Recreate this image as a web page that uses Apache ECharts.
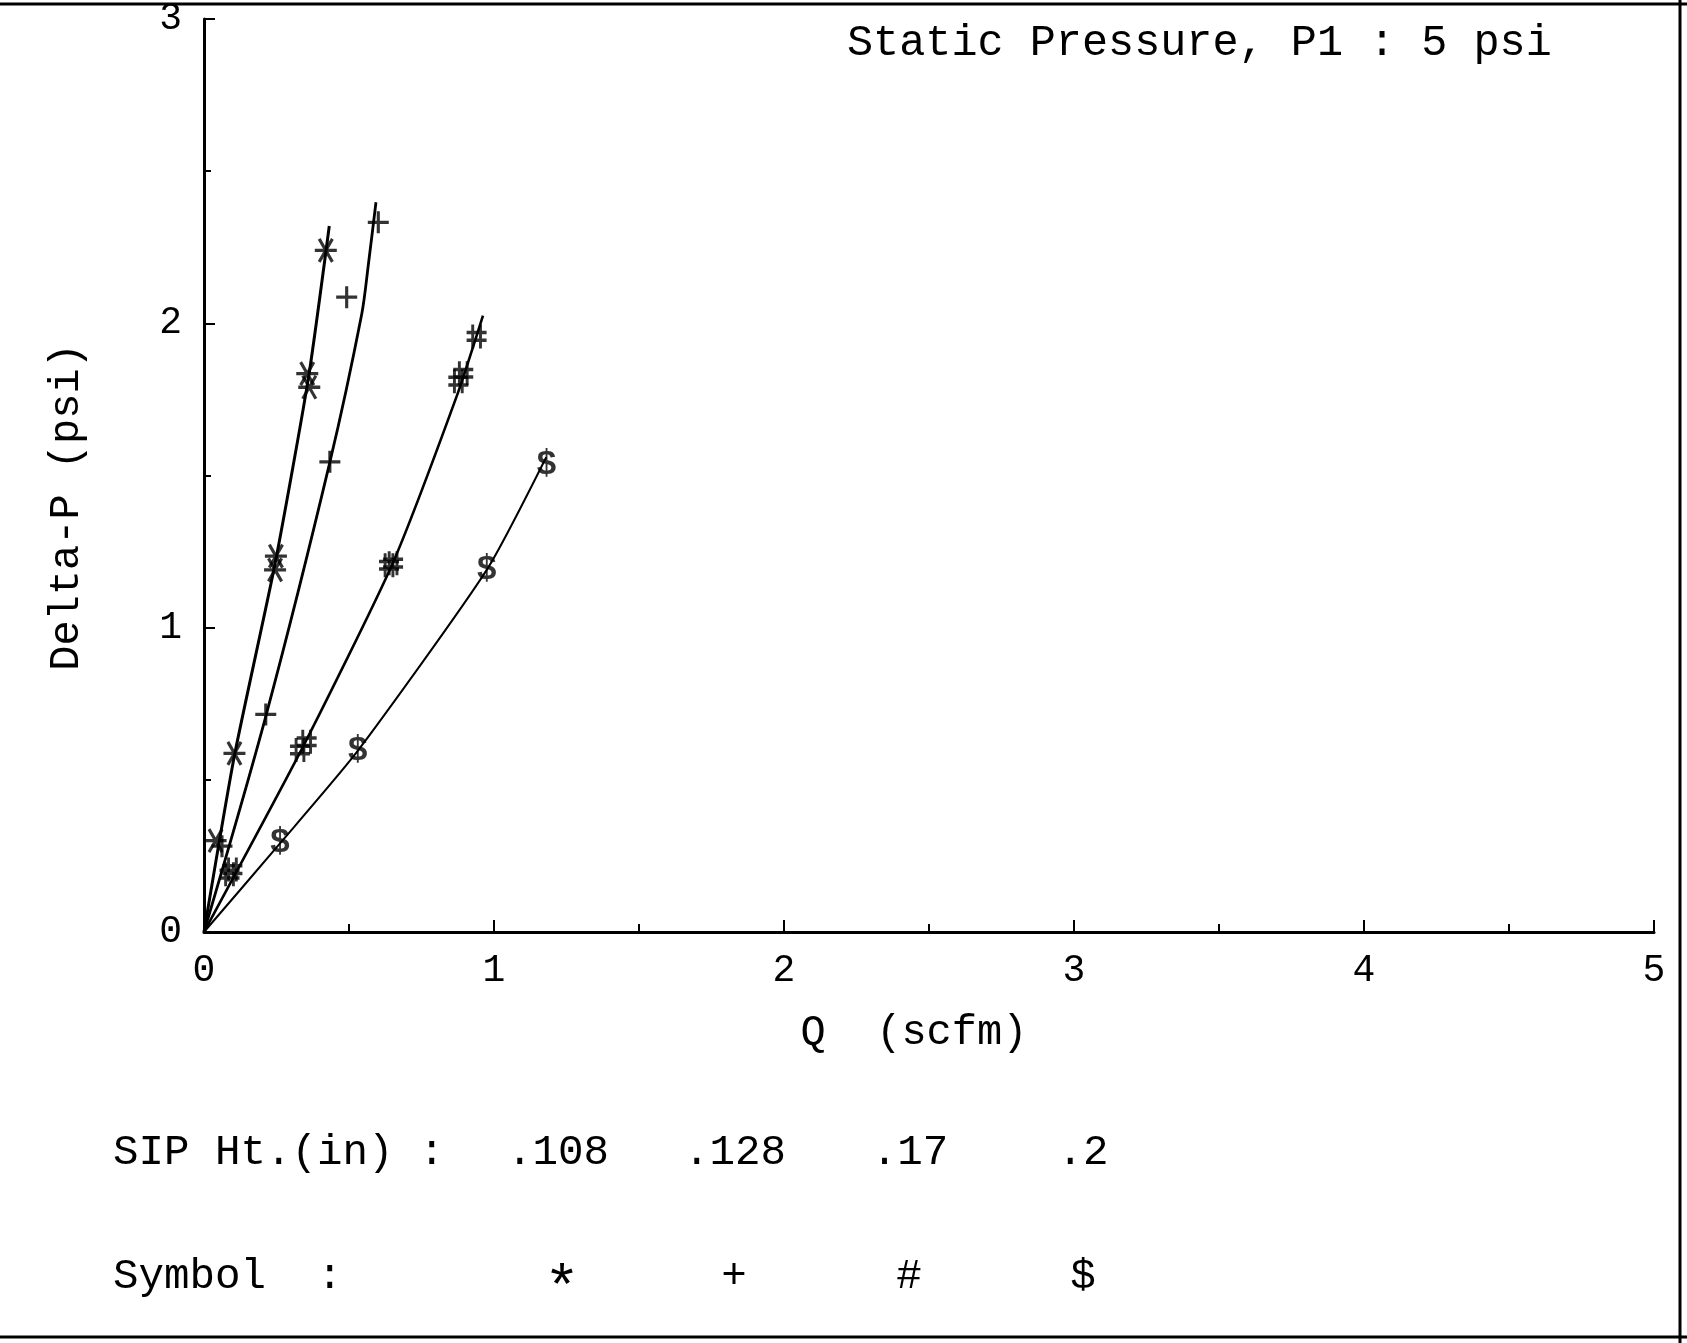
<!DOCTYPE html>
<html>
<head>
<meta charset="utf-8">
<script src="https://cdn.jsdelivr.net/npm/echarts@6/dist/echarts.min.js"></script>
<style>
  html, body { margin: 0; padding: 0; background: #fff; }
  #chart { width: 1687px; height: 1343px; }
</style>
</head>
<body>
<div id="chart"></div>
<script>
// Measured points, Q (scfm) vs Delta-P (psi), one pair of arrays per SIP height
const q108 = [0.040, 0.105, 0.245, 0.248, 0.356, 0.363, 0.420];
const dp108 = [0.300, 0.587, 1.190, 1.235, 1.835, 1.790, 2.240];

const q128 = [0.062, 0.213, 0.434, 0.492, 0.601];
const dp128 = [0.282, 0.715, 1.545, 2.086, 2.332];

const q17 = [0.088, 0.098, 0.331, 0.354, 0.638, 0.652, 0.877, 0.894, 0.940];
const dp17 = [0.190, 0.205, 0.598, 0.625, 1.205, 1.212, 1.810, 1.836, 1.957];

const q2 = [0.262, 0.530, 0.975, 1.181];
const dp2 = [0.291, 0.595, 1.190, 1.534];

// Fitted curves drawn through each set
const fitQ108 = [0, 0.105, 0.245, 0.360, 0.432];
const fitDp108 = [0, 0.580, 1.210, 1.820, 2.320];

const fitQ128 = [0, 0.214, 0.434, 0.544, 0.567, 0.593];
const fitDp128 = [0, 0.712, 1.544, 2.031, 2.195, 2.398];

const fitQ17 = [0, 0.342, 0.650, 0.875, 0.962];
const fitDp17 = [0, 0.610, 1.210, 1.770, 2.025];

const fitQ2 = [0, 0.262, 0.530, 0.975, 1.180];
const fitDp2 = [0, 0.291, 0.595, 1.190, 1.560];

// Legend rows
const sipHeights = ['.108', '.128', '.17', '.2'];
const symbolChars = ['*', '+', '#', '$'];

// Axis tick labels
const xTickLabels = ['0', '1', '2', '3', '4', '5'];
const yTickLabels = ['0', '1', '2', '3'];

const pair = (xs, ys) => xs.map((x, i) => [x, ys[i]]);

const FONT = '"Liberation Mono", "DejaVu Sans Mono", monospace';
const INK = '#000';

const starPath = 'path://M-10,0L10,0M-6,-10L6,10M-6,10L6,-10';
const plusPath = 'path://M-10,0L10,0M0,-10L0,10';
const hashPath = 'path://M-3.5,-11L-3.5,11M3.5,-11L3.5,11M-9,-3.5L9,-3.5M-9,3.5L9,3.5';

function fitLine(name, xs, ys, width, smooth) {
  return {
    name: name,
    type: 'line',
    data: pair(xs, ys),
    smooth: smooth,
    showSymbol: false,
    silent: true,
    lineStyle: { color: INK, width: width },
    z: 2
  };
}

function pathMarks(name, xs, ys, path, size) {
  return {
    name: name,
    type: 'scatter',
    data: pair(xs, ys),
    symbol: path,
    symbolSize: size,
    itemStyle: { color: 'transparent', borderColor: INK, borderWidth: 3.2 },
    z: 3
  };
}

const chart = echarts.init(document.getElementById('chart'), null, { renderer: 'canvas' });

const legendY1 = 1153;
const legendY2 = 1277;
const legendX = [558, 735, 910, 1083];
const symbolX = [562, 734, 909, 1083];

const textStyle = (text, size, align) => ({ text: text, fontFamily: FONT, fontSize: size, fill: INK, align: align, verticalAlign: 'middle' });

const graphics = [
  // outer frame lines
  { type: 'line', shape: { x1: 0, y1: 4, x2: 1687, y2: 4 }, style: { stroke: INK, lineWidth: 3 } },
  { type: 'line', shape: { x1: 1680, y1: 0, x2: 1680, y2: 1343 }, style: { stroke: INK, lineWidth: 3 } },
  { type: 'line', shape: { x1: 0, y1: 1337, x2: 1687, y2: 1337 }, style: { stroke: INK, lineWidth: 3 } },
  // heading
  { type: 'text', x: 847, y: 43, style: textStyle('Static Pressure, P1 : 5 psi', 43.5, 'left') },
  // axis titles
  { type: 'text', x: 914, y: 1033, style: textStyle('Q  (scfm)', 42, 'center') },
  { type: 'text', x: 67, y: 507, rotation: Math.PI / 2, style: textStyle('Delta-P (psi)', 42, 'center') },
  // legend rows
  { type: 'text', x: 113, y: legendY1, style: textStyle('SIP Ht.(in) :', 42.5, 'left') },
  { type: 'text', x: 113, y: legendY2, style: textStyle('Symbol  :', 42.5, 'left') }
];
sipHeights.forEach((t, i) => {
  graphics.push({ type: 'text', x: legendX[i], y: legendY1, style: textStyle(t, 42.5, 'center') });
});
symbolChars.forEach((t, i) => {
  const big = t === '*';
  graphics.push({ type: 'text', x: symbolX[i], y: legendY2 + (big ? 13 : 0), style: textStyle(t, big ? 60 : 42.5, 'center') });
});

const option = {
  backgroundColor: '#fff',
  animation: false,
  grid: { left: 204, right: 33, top: 18, bottom: 411, containLabel: false },
  xAxis: {
    type: 'value', min: 0, max: 5, interval: 1,
    axisLine: { show: true, onZero: false, lineStyle: { color: INK, width: 3 } },
    axisTick: { show: true, inside: true, length: 12, lineStyle: { color: INK, width: 2 } },
    minorTick: { show: true, splitNumber: 2, length: 8, lineStyle: { color: INK, width: 2 } },
    splitLine: { show: false },
    axisLabel: { color: INK, fontFamily: FONT, fontSize: 38, margin: 20,
      formatter: (v) => xTickLabels[Math.round(v)] }
  },
  yAxis: {
    type: 'value', min: 0, max: 3, interval: 1,
    axisLine: { show: true, onZero: false, lineStyle: { color: INK, width: 3 } },
    axisTick: { show: true, inside: true, length: 11, lineStyle: { color: INK, width: 2 } },
    minorTick: { show: true, splitNumber: 2, length: 7, lineStyle: { color: INK, width: 2 } },
    splitLine: { show: false },
    axisLabel: { color: INK, fontFamily: FONT, fontSize: 38, margin: 22,
      formatter: (v) => yTickLabels[Math.round(v)] }
  },
  series: [
    fitLine('fit .108', fitQ108, fitDp108, 3, 0.2),
    fitLine('fit .128', fitQ128, fitDp128, 2.8, 0.3),
    fitLine('fit .17', fitQ17, fitDp17, 2.6, 0.2),
    fitLine('fit .2', fitQ2, fitDp2, 2, 0.2),
    pathMarks('.108', q108, dp108, starPath, [22, 23]),
    pathMarks('.128', q128, dp128, plusPath, [21, 22]),
    pathMarks('.17', q17, dp17, hashPath, [20, 24]),
    {
      name: '.2',
      type: 'scatter',
      data: pair(q2, dp2),
      symbol: 'circle',
      symbolSize: 1,
      itemStyle: { color: 'transparent' },
      label: { show: true, position: 'inside', formatter: '$', fontFamily: FONT, fontSize: 35, fontWeight: 'bold', color: INK },
      z: 3
    }
  ],
  graphic: graphics
};

chart.setOption(option);
</script>
</body>
</html>
